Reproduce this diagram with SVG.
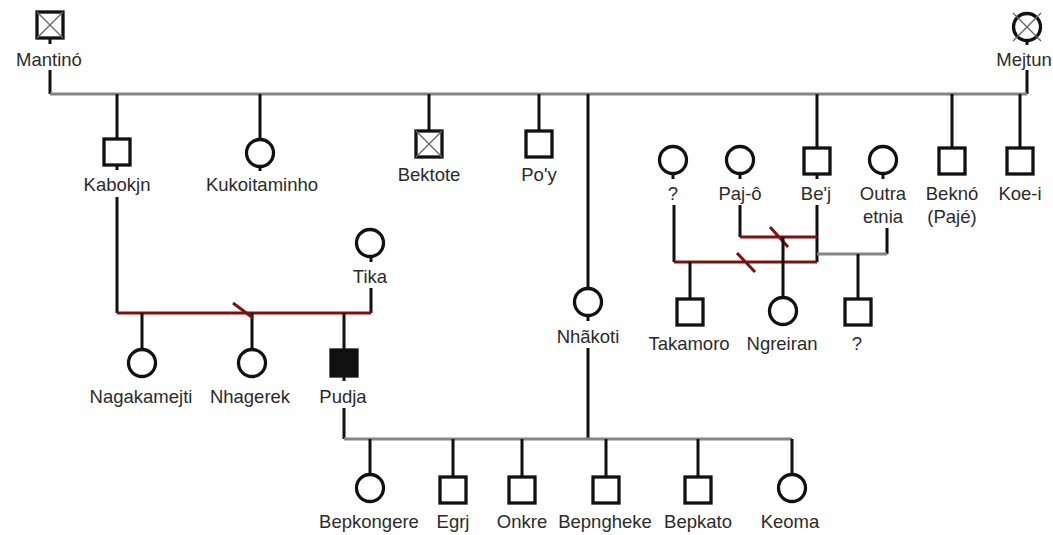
<svg xmlns="http://www.w3.org/2000/svg" width="1053" height="535" viewBox="0 0 1053 535">
<style>
.sym{fill:#fff;stroke:#111;stroke-width:3.3}
.aff{fill:#111;stroke:#111;stroke-width:3.3}
.x{stroke:#666;stroke-width:1.3;fill:none}
.lbl{font-family:"Liberation Sans",Arial,sans-serif;font-size:18.5px;fill:#2b2b2b;text-anchor:middle}
.v{stroke:#111;stroke-width:3;fill:none}
.g{stroke:#858585;stroke-width:3;fill:none}
.r{stroke:#7a1212;stroke-width:3;fill:none}
</style>
<rect width="1053" height="535" fill="#fff"/>
<g id="connectors">
<path class="v" d="M50 38V44M50 70V94M1027 41V45M1027 70V94"/>
<path class="g" d="M50 94H1027"/>
<path class="v" d="M117 94V139M260 94V139M429 94V131M539 94V131M588 94V288M817 94V148M952 94V148M1020 94V148"/>
<path class="v" d="M117 165V170M117 197V313M260 167V171M371 257V262M371 288V313"/>
<path class="r" d="M117 313H371"/>
<path class="v" d="M142 313V349M252 313V349M344 313V350"/>
<path class="r" d="M233 303L253 318"/>
<path class="v" d="M344 376V381M344 408V439M588 316V321M588 348V439"/>
<path class="g" d="M344 439H792"/>
<path class="v" d="M370 439V474M453 439V477M522 439V477M606 439V477M698 439V477M792 439V474"/>
<path class="v" d="M673 174V179M740 174V179M817 174V179M883 174V179M674 205V262M740 205V237M817 205V262M887 228V254"/>
<path class="r" d="M740 237H817M674 262H817M770 227L788 247M737 253L755 272"/>
<path class="g" d="M817 254H887"/>
<path class="v" d="M690 262V299M783 237V297M858 254V299"/>
</g>
<g id="Mantino"><rect class="sym" x="37" y="12" width="26" height="26"/><path class="x" d="M37 12L63 38M63 12L37 38"/><text class="lbl" x="49" y="66">Mantinó</text></g>
<g id="Mejtun"><circle class="sym" cx="1027" cy="27" r="13.5"/><path class="x" d="M1013 13L1041 41M1041 13L1013 41"/><text class="lbl" x="1024" y="66">Mejtun</text></g>
<g id="Kabokjn"><rect class="sym" x="104" y="139" width="26" height="26"/><text class="lbl" x="117" y="191">Kabokjn</text></g>
<g id="Kukoitaminho"><circle class="sym" cx="260" cy="153" r="13.5"/><text class="lbl" x="262" y="191">Kukoitaminho</text></g>
<g id="Bektote"><rect class="sym" x="416" y="131" width="26" height="26"/><path class="x" d="M416 131L442 157M442 131L416 157"/><text class="lbl" x="429" y="181">Bektote</text></g>
<g id="Poy"><rect class="sym" x="526" y="131" width="26" height="26"/><text class="lbl" x="539" y="181">Po'y</text></g>
<g id="Nhakoti"><circle class="sym" cx="588" cy="302" r="13.5"/><text class="lbl" x="588" y="343">Nhãkoti</text></g>
<g id="Q1"><circle class="sym" cx="673" cy="160" r="13.5"/><text class="lbl" x="673" y="200">?</text></g>
<g id="Pajo"><circle class="sym" cx="740" cy="160" r="13.5"/><text class="lbl" x="740" y="200">Paj-ô</text></g>
<g id="Bej"><rect class="sym" x="804" y="148" width="26" height="26"/><text class="lbl" x="816" y="200">Be'j</text></g>
<g id="OutraEtnia"><circle class="sym" cx="883" cy="160" r="13.5"/><text class="lbl" x="883" y="200">Outra</text><text class="lbl" x="883" y="223">etnia</text></g>
<g id="Bekno"><rect class="sym" x="939" y="148" width="26" height="26"/><text class="lbl" x="952" y="200">Beknó</text><text class="lbl" x="952" y="223">(Pajé)</text></g>
<g id="Koei"><rect class="sym" x="1007" y="148" width="26" height="26"/><text class="lbl" x="1020" y="200">Koe-i</text></g>
<g id="Takamoro"><rect class="sym" x="677" y="299" width="26" height="26"/><text class="lbl" x="689" y="350">Takamoro</text></g>
<g id="Ngreiran"><circle class="sym" cx="783" cy="311" r="13.5"/><text class="lbl" x="782" y="350">Ngreiran</text></g>
<g id="Q2"><rect class="sym" x="845" y="299" width="26" height="26"/><text class="lbl" x="857" y="350">?</text></g>
<g id="Tika"><circle class="sym" cx="370" cy="243" r="13.5"/><text class="lbl" x="370" y="283">Tika</text></g>
<g id="Nagakamejti"><circle class="sym" cx="142" cy="363" r="13.5"/><text class="lbl" x="141" y="403">Nagakamejti</text></g>
<g id="Nhagerek"><circle class="sym" cx="252" cy="363" r="13.5"/><text class="lbl" x="250" y="403">Nhagerek</text></g>
<g id="Pudja"><rect class="aff" x="331" y="350" width="26" height="26"/><text class="lbl" x="343" y="403">Pudja</text></g>
<g id="Bepkongere"><circle class="sym" cx="370" cy="488" r="13.5"/><text class="lbl" x="369" y="528">Bepkongere</text></g>
<g id="Egrj"><rect class="sym" x="440" y="477" width="26" height="26"/><text class="lbl" x="453" y="528">Egrj</text></g>
<g id="Onkre"><rect class="sym" x="509" y="477" width="26" height="26"/><text class="lbl" x="522" y="528">Onkre</text></g>
<g id="Bepngheke"><rect class="sym" x="593" y="477" width="26" height="26"/><text class="lbl" x="605" y="528">Bepngheke</text></g>
<g id="Bepkato"><rect class="sym" x="685" y="477" width="26" height="26"/><text class="lbl" x="698" y="528">Bepkato</text></g>
<g id="Keoma"><circle class="sym" cx="792" cy="488" r="13.5"/><text class="lbl" x="790" y="528">Keoma</text></g>
</svg>
